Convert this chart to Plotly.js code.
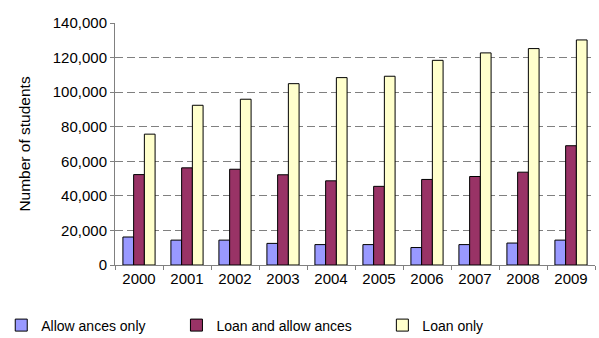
<!DOCTYPE html>
<html>
<head>
<meta charset="utf-8">
<script src="https://cdn.plot.ly/plotly-3.0.1.min.js"></script>
<style>html,body{margin:0;padding:0;background:#fff;}#chart{width:599px;height:338px;}</style>
</head>
<body>
<div id="chart"></div>
<script>
const years = ["2000","2001","2002","2003","2004","2005","2006","2007","2008","2009"];
const allowancesOnly = [16200, 14400, 14400, 12500, 11800, 11800, 10100, 11800, 12700, 14400];
const loanAndAllowances = [52300, 56200, 55400, 52200, 48700, 45500, 49500, 51200, 53700, 69000];
const loanOnly = [75700, 92400, 95900, 104900, 108400, 109200, 118400, 122700, 125200, 130200];
const seriesNames = ["Allow ances only", "Loan and allow ances", "Loan only"];
const seriesColors = ["#9999FF", "#993366", "#FFFFCC"];

const font = {family: "Liberation Sans, Arial, sans-serif", color: "#000"};
const data = [allowancesOnly, loanAndAllowances, loanOnly].map((vals, i) => ({
  type: "bar",
  x: years,
  y: vals,
  name: seriesNames[i],
  legend: i === 0 ? "legend" : "legend" + (i + 1),
  marker: {color: seriesColors[i], line: {color: "#000", width: 1}},
  hoverinfo: "skip"
}));

const legendBase = {orientation: "h", yanchor: "middle", xanchor: "left", y: -0.25,
  font: Object.assign({size: 14}, font), bgcolor: "rgba(0,0,0,0)", borderwidth: 0, itemwidth: 30};

const layout = {
  width: 599, height: 338,
  margin: {l: 115, r: 4, t: 23, b: 73, autoexpand: false},
  paper_bgcolor: "#fff", plot_bgcolor: "#fff",
  barmode: "group", bargap: 0.33, bargroupgap: 0,
  font: Object.assign({size: 15}, font),
  xaxis: {
    type: "category", tickson: "boundaries", ticks: "outside", ticklen: 4, tickcolor: "#808080",
    showline: true, linecolor: "#808080", linewidth: 1, showgrid: false,
    tickfont: Object.assign({size: 15}, font)
  },
  yaxis: {
    range: [0, 140000], tickvals: [0,20000,40000,60000,80000,100000,120000,140000],
    tickformat: ",d", ticks: "outside", ticklen: 4, tickcolor: "#808080",
    showline: true, linecolor: "#808080", linewidth: 1,
    showgrid: true, gridcolor: "#808080", gridwidth: 1, griddash: "8px,4px",
    zeroline: false, tickfont: Object.assign({size: 15}, font),
    title: {text: "Number of students", font: Object.assign({size: 15.5}, font), standoff: 18}
  },
  showlegend: true,
  legend: Object.assign({}, legendBase, {x: -0.237}),
  legend2: Object.assign({}, legendBase, {x: 0.128}),
  legend3: Object.assign({}, legendBase, {x: 0.557})
};

Plotly.newPlot("chart", data, layout, {displayModeBar: false, staticPlot: true});
</script>
</body>
</html>
